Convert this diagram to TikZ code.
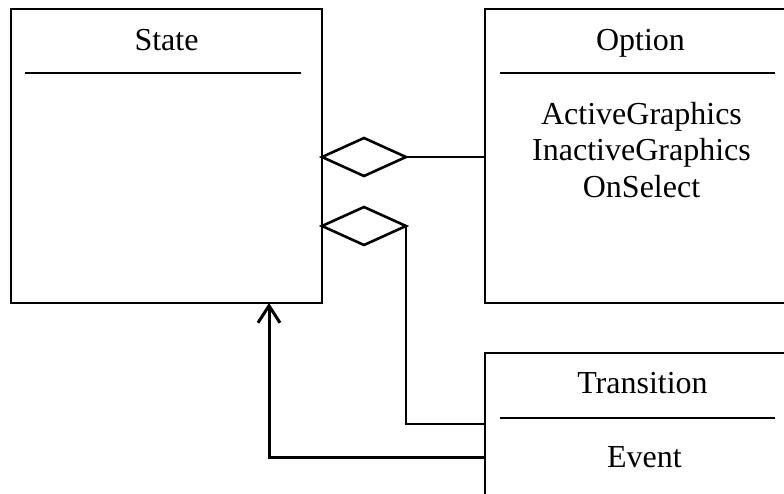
\documentclass[tikz,border=0pt]{standalone}
\usepackage{fontspec}
\setmainfont{Liberation Serif}
\usetikzlibrary{positioning,arrows.meta,shapes.geometric}

\tikzset{
  classbox/.style={draw, line width=1.3pt, inner sep=0pt, outer sep=0pt, anchor=north west,
    minimum width=311pt, minimum height=294pt},
  sepline/.style={line width=1.5pt},
  classname/.style={font=\fontsize{32}{36.5}\selectfont, inner sep=0pt},
  aggr/.style={diamond, draw, line width=2.6pt, inner sep=0pt, outer sep=0pt, anchor=west,
    minimum width=84pt, minimum height=38pt},
  assoc/.style={line width=1.6pt},
  gen/.style={line width=3pt, -{Straight Barb[length=17pt,width=22pt,line width=3pt]}}
}

\begin{document}
\begin{tikzpicture}[x=1pt,y=-1pt]
  \useasboundingbox (0,0) rectangle (784,493);

  % class boxes
  \node[classbox] (stt) at (11,9) {};
  \node[classbox, minimum width=305pt] (opt) at (485,9) {};
  \node[classbox, minimum width=305pt, minimum height=200pt] (trn) at (485,353) {};

  % names and separators
  \node[classname] (sttname) at ([yshift=-31pt]stt.north) {State};
  \draw[sepline] ([xshift=14pt,yshift=-64pt]stt.north west) -- ([xshift=-21pt,yshift=-64pt]stt.north east);

  \node[classname] (optname) at ([xshift=3pt,yshift=-34pt]opt.north) {Option};
  \draw[sepline] ([xshift=15pt,yshift=-64pt]opt.north west) -- ++(275,0);
  \node[classname, align=center] (optattr) at ([xshift=4pt,yshift=-141pt]opt.north)
    {ActiveGraphics\\InactiveGraphics\\OnSelect};

  \node[classname] (trnname) at ([xshift=5pt,yshift=-30pt]trn.north) {Transition};
  \draw[sepline] ([xshift=15pt,yshift=-65pt]trn.north west) -- ++(275,0);
  \node[classname] (trnattr) at ([xshift=7pt,yshift=-104pt]trn.north) {Event};

  % aggregations
  \node[aggr] (agg1) at (stt.east |- 0,157) {};
  \node[aggr] (agg2) at (stt.east |- 0,226) {};
  \coordinate (trnin) at ([yshift=-71pt]trn.north west);
  \coordinate (trnout) at ([yshift=-104pt]trn.north west);

  \draw[assoc] (agg1.east) -- (opt.west |- agg1.east);
  \draw[assoc] (agg2.east) |- (trnin);

  % generalisation
  \draw[gen] (trnout) -| ([xshift=-53pt]stt.south east);
\end{tikzpicture}
\end{document}
